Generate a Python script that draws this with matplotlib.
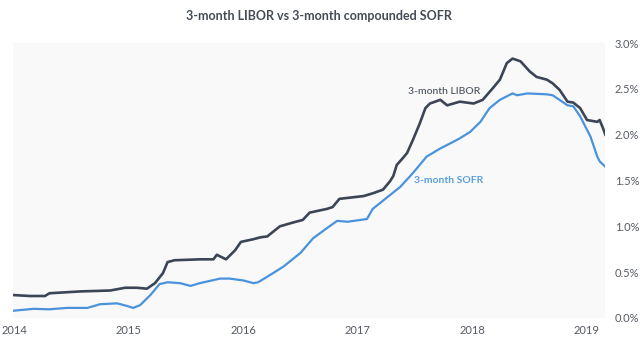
import matplotlib
matplotlib.use("Agg")
import matplotlib.pyplot as plt
from matplotlib.ticker import FuncFormatter

plt.rcParams['font.family'] = ['Lato', 'DejaVu Sans']

libor_t = [2014.00, 2014.14, 2014.27, 2014.31, 2014.58, 2014.84, 2014.97, 2015.07, 2015.16,
           2015.23, 2015.30, 2015.34, 2015.40, 2015.62, 2015.74, 2015.77, 2015.85, 2015.93,
           2015.98, 2016.09, 2016.15, 2016.21, 2016.32, 2016.43, 2016.52, 2016.58, 2016.73,
           2016.78, 2016.84, 2017.05, 2017.13, 2017.22, 2017.28, 2017.31, 2017.34, 2017.39,
           2017.43, 2017.48, 2017.54, 2017.59, 2017.63, 2017.72, 2017.78, 2017.89, 2018.01,
           2018.09, 2018.18, 2018.24, 2018.30, 2018.35, 2018.42, 2018.50, 2018.56, 2018.65,
           2018.70, 2018.76, 2018.83, 2018.88, 2018.94, 2019.00, 2019.09, 2019.11, 2019.14,
           2019.16]
libor_v = [0.25, 0.24, 0.24, 0.27, 0.29, 0.30, 0.33, 0.33, 0.32,
           0.38, 0.49, 0.61, 0.63, 0.64, 0.64, 0.69, 0.64, 0.74,
           0.83, 0.86, 0.88, 0.89, 1.00, 1.04, 1.07, 1.15, 1.19,
           1.21, 1.30, 1.33, 1.36, 1.40, 1.49, 1.55, 1.67, 1.74,
           1.80, 1.94, 2.12, 2.29, 2.34, 2.38, 2.32, 2.36, 2.34,
           2.38, 2.51, 2.60, 2.78, 2.83, 2.80, 2.69, 2.63, 2.60,
           2.56, 2.49, 2.36, 2.35, 2.29, 2.16, 2.14, 2.16, 2.07,
           2.00]

sofr_t = [2014.00, 2014.17, 2014.31, 2014.46, 2014.64, 2014.75, 2014.90, 2014.99, 2015.04,
          2015.10, 2015.19, 2015.27, 2015.34, 2015.45, 2015.54, 2015.62, 2015.80, 2015.88,
          2016.00, 2016.09, 2016.13, 2016.21, 2016.35, 2016.50, 2016.61, 2016.73, 2016.82,
          2016.91, 2017.08, 2017.13, 2017.25, 2017.37, 2017.48, 2017.60, 2017.72, 2017.83,
          2017.89, 2017.98, 2018.07, 2018.15, 2018.24, 2018.35, 2018.39, 2018.48, 2018.65,
          2018.70, 2018.76, 2018.83, 2018.88, 2018.94, 2019.03, 2019.09, 2019.11, 2019.16]
sofr_v = [0.08, 0.10, 0.095, 0.11, 0.11, 0.15, 0.16, 0.13, 0.11,
          0.14, 0.25, 0.37, 0.39, 0.38, 0.35, 0.38, 0.43, 0.43,
          0.41, 0.38, 0.39, 0.45, 0.56, 0.71, 0.87, 0.98, 1.06,
          1.05, 1.08, 1.19, 1.31, 1.43, 1.58, 1.76, 1.85, 1.92,
          1.96, 2.03, 2.14, 2.29, 2.38, 2.45, 2.43, 2.45, 2.44,
          2.43, 2.38, 2.32, 2.31, 2.20, 1.98, 1.76, 1.71, 1.65]

x_ticks = [2014, 2015, 2016, 2017, 2018, 2019]
y_ticks = [0.0, 0.5, 1.0, 1.5, 2.0, 2.5, 3.0]

title = "3-month LIBOR vs 3-month compounded SOFR"
libor_label = "3-month LIBOR"
sofr_label = "3-month SOFR"

libor_color = "#3b4555"
sofr_color = "#4a93dc"

fig = plt.figure(figsize=(6.4, 3.4), dpi=100)
ax = fig.add_axes([13/640, 1 - 318/340, (605 - 13)/640, (318 - 43)/340])
ax.set_facecolor("#f9f9fa")

ax.plot(sofr_t, sofr_v, color=sofr_color, lw=1.6, solid_joinstyle='round')
ax.plot(libor_t, libor_v, color=libor_color, lw=1.9, solid_joinstyle='round')

ax.set_xlim(2014 - 1/114.6, 2014 + (605 - 14)/114.6)
ax.set_ylim(0, 3.0)

for s in ax.spines.values():
    s.set_visible(False)

ax.set_xticks(x_ticks)
ax.set_xticklabels([str(t) for t in x_ticks])
ax.yaxis.tick_right()
ax.set_yticks(y_ticks)
ax.yaxis.set_major_formatter(FuncFormatter(lambda v, p: f"{v:.1f}%"))
ax.tick_params(axis='both', length=0, labelsize=8, colors="#555b63")
ax.tick_params(axis='y', pad=7)
ax.tick_params(axis='x', pad=5)

ax.text(2014 + (444 - 14)/114.6, 2.47, libor_label, color="#555d68", fontsize=7.5,
        ha='center', va='center', fontweight='semibold')
ax.text(2014 + (449 - 14)/114.6, 1.50, sofr_label, color="#5b9fe0", fontsize=7.5,
        ha='center', va='center', fontweight='bold')

fig.text(319/640, 1 - 16/340, title, ha='center', va='center', fontsize=9,
         fontweight='bold', color="#454b55")

fig.savefig("out.png", dpi=100)
